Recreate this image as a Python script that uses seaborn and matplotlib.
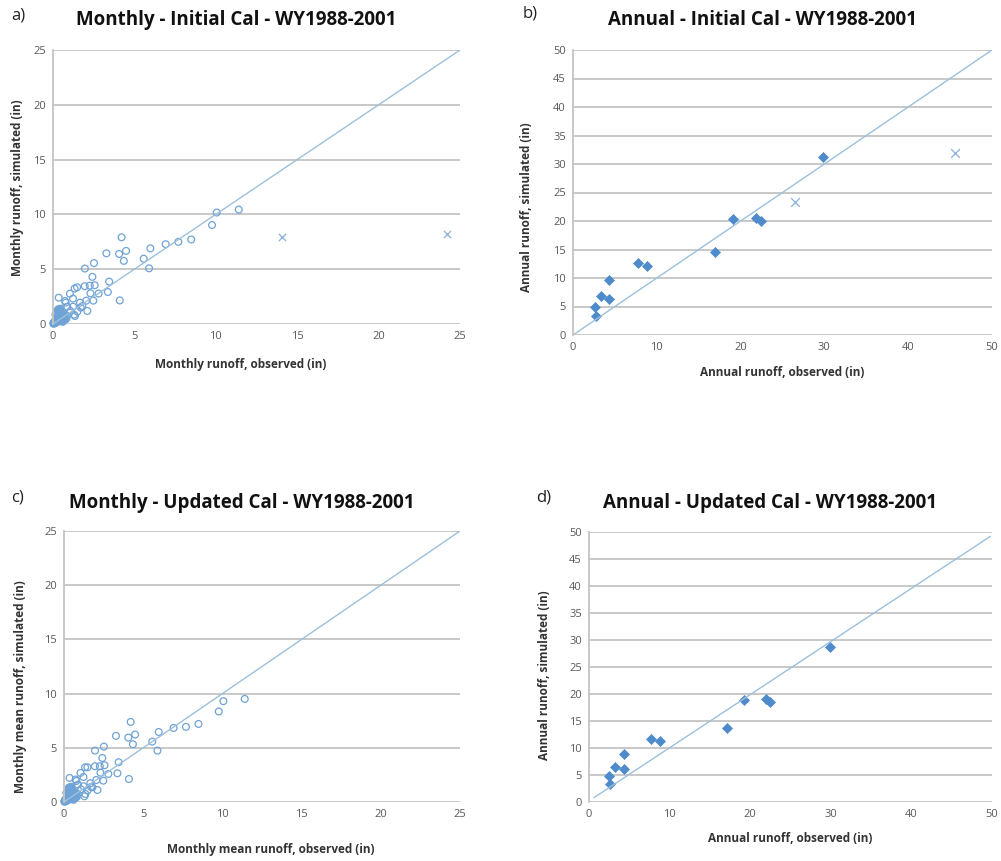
import matplotlib
matplotlib.use("Agg")
import matplotlib.pyplot as plt
import seaborn as sns

# ---- Monthly runoff (inches), one value per month ----
monthly_obs = [
    11.41, 10.06, 9.77, 8.49, 7.70, 6.92, 5.98, 5.57, 5.90, 4.21, 4.49, 4.06, 4.35,
    3.28, 2.52, 1.96, 2.42, 3.45, 1.95, 2.26, 2.56, 1.33, 1.48, 3.37, 2.80, 2.30,
    1.04, 0.35, 1.23, 0.74, 0.78, 4.10, 2.48, 2.04, 1.66, 1.23, 1.70, 2.11, 1.50,
    1.07, 0.88, 1.35, 1.29, 1.80,
    0.02, 0.04, 0.05, 0.06, 0.08, 0.09, 0.10, 0.11, 0.12, 0.13, 0.14, 0.15, 0.16,
    0.17, 0.18, 0.19, 0.20, 0.21, 0.22, 0.23, 0.24, 0.25, 0.26, 0.27, 0.28, 0.29,
    0.30, 0.31, 0.32, 0.33, 0.34, 0.35, 0.36, 0.37, 0.38, 0.39, 0.40, 0.41, 0.42,
    0.43, 0.44, 0.45, 0.46, 0.47, 0.48, 0.50, 0.52, 0.54, 0.55, 0.57, 0.58, 0.60,
    0.62, 0.64, 0.66, 0.68, 0.70, 0.72, 0.75, 0.78, 0.82, 0.86, 0.28, 0.33, 0.40,
    0.22, 0.45, 0.52, 0.60, 0.15, 0.36,
]
monthly_sim_initial = [
    10.44, 10.17, 9.03, 7.71, 7.50, 7.28, 6.90, 5.96, 5.08, 7.91, 6.67, 6.39, 5.76,
    6.45, 5.56, 5.06, 4.30, 3.87, 3.45, 3.50, 3.54, 3.24, 3.35, 2.92, 2.78, 2.80,
    2.77, 2.40, 2.32, 2.10, 1.95, 2.15, 2.13, 2.13, 1.95, 1.58, 1.49, 1.19, 1.13,
    1.19, 1.58, 0.73, 0.85, 1.64,
    0.03, 0.10, 0.05, 0.12, 0.08, 0.20, 0.15, 0.06, 0.25, 0.18, 0.30, 0.12, 0.35,
    0.22, 0.40, 0.28, 0.15, 0.45, 0.32, 0.50, 0.26, 0.60, 0.38, 0.20, 0.70, 0.42,
    0.55, 0.80, 0.30, 0.65, 0.48, 0.90, 0.36, 1.00, 0.58, 0.25, 1.10, 0.44, 0.75,
    1.20, 0.52, 1.30, 0.62, 0.34, 0.85, 0.40, 1.05, 0.70, 0.28, 0.95, 0.50, 0.60,
    0.80, 0.35, 0.70, 0.45, 0.55, 0.90, 0.40, 0.65, 0.50, 0.75, 1.25, 1.35, 1.15,
    0.95, 1.40, 0.30, 0.20, 0.85, 1.28,
]
monthly_sim_updated = [
    9.51, 9.30, 8.35, 7.20, 6.93, 6.83, 6.46, 5.57, 4.74, 7.39, 6.22, 5.94, 5.33,
    6.10, 5.11, 4.74, 4.06, 3.67, 3.30, 3.30, 3.39, 3.20, 3.20, 2.65, 2.59, 2.71,
    2.68, 2.22, 2.31, 2.07, 1.94, 2.12, 1.97, 2.03, 1.73, 1.45, 1.39, 1.11, 1.08,
    1.17, 1.60, 0.74, 0.53, 1.36,
    0.03, 0.10, 0.05, 0.12, 0.08, 0.20, 0.15, 0.06, 0.25, 0.18, 0.30, 0.12, 0.35,
    0.22, 0.40, 0.28, 0.15, 0.45, 0.32, 0.50, 0.26, 0.60, 0.38, 0.20, 0.70, 0.42,
    0.55, 0.80, 0.30, 0.65, 0.48, 0.90, 0.36, 1.00, 0.58, 0.25, 1.10, 0.44, 0.75,
    1.20, 0.52, 1.30, 0.62, 0.34, 0.85, 0.40, 1.05, 0.70, 0.28, 0.95, 0.50, 0.60,
    0.80, 0.35, 0.70, 0.45, 0.55, 0.90, 0.40, 0.65, 0.50, 0.75, 1.25, 1.35, 1.15,
    0.95, 1.40, 0.30, 0.20, 0.85, 1.28,
]
# Months excluded from the updated calibration
monthly_outlier_obs = [14.04, 24.18]
monthly_outlier_sim = [7.91, 8.21]

# ---- Annual runoff (inches), one value per water year ----
annual_obs = [2.59, 2.70, 3.30, 4.30, 4.30, 7.76, 8.79, 16.98, 19.09, 21.84, 22.43, 29.83]
annual_sim_initial = [4.97, 3.39, 6.78, 9.65, 6.37, 12.57, 12.16, 14.56, 20.29, 20.58, 20.00, 31.23]
annual_obs_updated = [2.53, 2.61, 3.27, 4.35, 4.35, 7.75, 8.82, 17.07, 19.18, 21.91, 22.49, 29.90]
annual_sim_updated = [4.75, 3.27, 6.54, 8.95, 6.11, 11.67, 11.36, 13.64, 18.89, 19.07, 18.46, 28.77]
annual_outlier_obs = [26.53, 45.62]
annual_outlier_sim = [23.39, 31.93]

# ---- Reference lines ----
line_monthly = [0, 25]
line_annual = [0, 50]
line_annual_updated_x = [0.6, 49.8]
line_annual_updated_y = [0.8, 49.2]

titles = [
    "Monthly - Initial Cal - WY1988-2001",
    "Annual - Initial Cal - WY1988-2001",
    "Monthly - Updated Cal - WY1988-2001",
    "Annual - Updated Cal - WY1988-2001",
]
panel_tags = ["a)", "b)", "c)", "d)"]
xlabels = [
    "Monthly runoff, observed (in)",
    "Annual runoff, observed (in)",
    "Monthly mean runoff, observed (in)",
    "Annual runoff, observed (in)",
]
ylabels = [
    "Monthly runoff, simulated (in)",
    "Annual runoff, simulated (in)",
    "Monthly mean runoff, simulated (in)",
    "Annual runoff, simulated (in)",
]

sns.set_style("white")
plt.rcParams["font.family"] = ["Open Sans", "DejaVu Sans"]

W, H = 1001, 861
fig = plt.figure(figsize=(W / 100, H / 100), dpi=100)
fig.patch.set_facecolor("white")

CIRCLE = "#6FA3D6"
DIAMOND = "#4F8BCB"
CROSS = "#93B7DA"
LINE = "#9CC0DC"
GRID = "#C4C4C4"
TICK = "#595959"


def px_axes(left, top, right, bottom):
    return fig.add_axes([left / W, 1 - bottom / H, (right - left) / W, (bottom - top) / H])


def style(ax, vmax, step):
    ax.set_xlim(0, vmax)
    ax.set_ylim(0, vmax)
    ax.set_xticks(range(0, vmax + 1, step))
    ax.set_yticks(range(0, vmax + 1, 5))
    ax.yaxis.grid(True, color=GRID, linewidth=1.3)
    ax.xaxis.grid(False)
    for s in ["top", "right", "bottom"]:
        ax.spines[s].set_visible(False)
    ax.spines["left"].set_color(GRID)
    ax.spines["left"].set_linewidth(1.3)
    ax.tick_params(axis="both", length=0, labelsize=8, labelcolor=TICK, pad=5)
    ax.set_xlabel("")
    ax.set_ylabel("")
    ax.set_axisbelow(True)


def txt(x, y, s, **kw):
    fig.text(x / W, 1 - y / H, s, ha="center", va="center", **kw)


axes = [
    px_axes(53, 50, 460, 324),
    px_axes(573, 50, 992, 335),
    px_axes(64, 531, 460, 802),
    px_axes(589, 532, 992, 802),
]

# a) monthly, initial calibration
ax = axes[0]
sns.lineplot(x=line_monthly, y=line_monthly, ax=ax, color=LINE, linewidth=1.0, sort=False)
sns.scatterplot(x=monthly_obs, y=monthly_sim_initial, ax=ax, marker="o", s=24,
                facecolor="none", edgecolor=CIRCLE, linewidth=0.9, clip_on=False)
sns.scatterplot(x=monthly_outlier_obs, y=monthly_outlier_sim, ax=ax, marker="x", s=28,
                color=CROSS, linewidth=1.0)
style(ax, 25, 5)

# b) annual, initial calibration
ax = axes[1]
sns.lineplot(x=line_annual, y=line_annual, ax=ax, color=LINE, linewidth=1.0, sort=False)
sns.scatterplot(x=annual_obs, y=annual_sim_initial, ax=ax, marker="D", s=26,
                color=DIAMOND, edgecolor=DIAMOND, linewidth=0.5)
sns.scatterplot(x=annual_outlier_obs, y=annual_outlier_sim, ax=ax, marker="x", s=40,
                color=CROSS, linewidth=1.0)
style(ax, 50, 10)

# c) monthly, updated calibration
ax = axes[2]
sns.lineplot(x=line_monthly, y=line_monthly, ax=ax, color=LINE, linewidth=1.0, sort=False)
sns.scatterplot(x=monthly_obs, y=monthly_sim_updated, ax=ax, marker="o", s=24,
                facecolor="none", edgecolor=CIRCLE, linewidth=0.9, clip_on=False)
style(ax, 25, 5)

# d) annual, updated calibration
ax = axes[3]
sns.lineplot(x=line_annual_updated_x, y=line_annual_updated_y, ax=ax, color=LINE,
             linewidth=1.0, sort=False)
sns.scatterplot(x=annual_obs_updated, y=annual_sim_updated, ax=ax, marker="D", s=26,
                color=DIAMOND, edgecolor=DIAMOND, linewidth=0.5)
style(ax, 50, 10)

# Titles, panel tags and axis labels
title_pos = [(236, 20), (762, 20), (242, 503), (770, 503)]
tag_pos = [(18, 16), (530, 14), (18, 497), (544, 497)]
xlab_pos = [(241, 364), (782, 372), (271, 849), (790, 838)]
ylab_pos = [(18, 188), (527, 207), (21, 687), (544, 675)]

for i in range(4):
    txt(*title_pos[i], titles[i], fontsize=13.5, fontweight="bold", color="#111111")
    txt(*tag_pos[i], panel_tags[i], fontsize=12, color="#222222")
    txt(*xlab_pos[i], xlabels[i], fontsize=8.5, fontweight="bold", color="#333333")
    txt(*ylab_pos[i], ylabels[i], fontsize=8.5, fontweight="bold", color="#333333",
        rotation=90)

fig.savefig("out.png", dpi=100, facecolor="white")
